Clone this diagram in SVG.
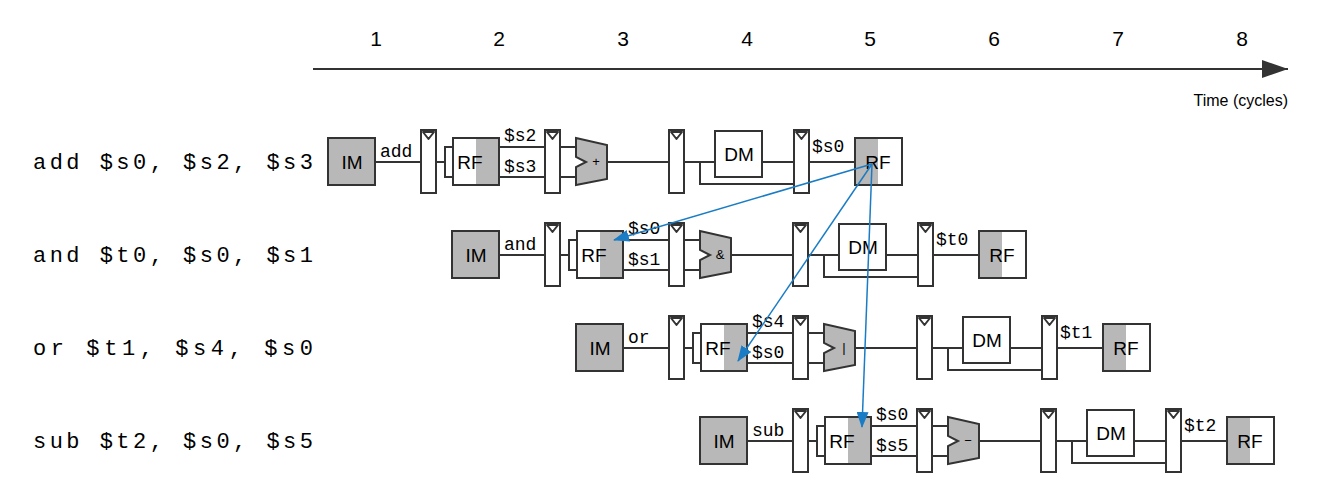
<svg xmlns="http://www.w3.org/2000/svg" width="1321" height="490" viewBox="0 0 1321 490">
<style>
.s{fill:none;stroke:#333;stroke-width:2}
.b{fill:#fff;stroke:#333;stroke-width:2}
.g{fill:#b8b8b8;stroke:#333;stroke-width:2}
.gf{fill:#b8b8b8}
.t{font-family:"Liberation Sans",Arial,sans-serif;fill:#000}
.m{font-family:"Liberation Mono","Courier New",monospace;fill:#000;white-space:pre}
.ar{fill:none;stroke:#1a7cc4;stroke-width:1.5}
</style>
<defs>
<marker id="ah" markerWidth="16" markerHeight="12" refX="15" refY="6" orient="auto" markerUnits="userSpaceOnUse"><path d="M0,0L16,6L0,12z" fill="#1a7cc4"/></marker>
<marker id="th" markerWidth="26" markerHeight="18" refX="26" refY="9" orient="auto" markerUnits="userSpaceOnUse"><path d="M0,0L26,9L0,18z" fill="#333"/></marker>
<g id="reg"><rect class="b" x="0" y="0" width="15" height="63"/><path d="M2,2L13,2L7.5,9z" fill="#fff" stroke="#333" stroke-width="2" stroke-linejoin="round"/></g>
<g id="stages">
<line class="s" x1="375" y1="162" x2="421" y2="162"/>
<use href="#reg" x="421" y="130"/>
<line class="s" x1="436" y1="162" x2="445" y2="162"/>
<rect class="b" x="445" y="147" width="8" height="30"/>
<rect class="b" x="453" y="138" width="46" height="47"/>
<rect class="gf" x="476" y="139" width="22" height="45"/>
<rect class="s" x="453" y="138" width="46" height="47"/>
<line class="s" x1="499" y1="147" x2="545" y2="147"/>
<line class="s" x1="499" y1="177" x2="545" y2="177"/>
<use href="#reg" x="545" y="130"/>
<line class="s" x1="560" y1="147" x2="576" y2="147"/>
<line class="s" x1="560" y1="177" x2="576" y2="177"/>
<path class="g" d="M576,138L607,145L607,179L576,185L576,167L586,162L576,157z"/>
<line class="s" x1="607" y1="162" x2="669" y2="162"/>
<use href="#reg" x="669" y="130"/>
<line class="s" x1="684" y1="162" x2="715" y2="162"/>
<path class="s" d="M700,162V184H794"/>
<rect class="b" x="715" y="131" width="47" height="46"/>
<line class="s" x1="762" y1="162" x2="794" y2="162"/>
<use href="#reg" x="794" y="130"/>
<line class="s" x1="809" y1="162" x2="855" y2="162"/>
<rect class="b" x="855" y="138" width="47" height="47"/>
<rect class="gf" x="856" y="139" width="22" height="45"/>
<rect class="s" x="855" y="138" width="47" height="47"/>
</g>
</defs>
<g id="timeline">
<line x1="313" y1="69" x2="1288" y2="69" stroke="#333" stroke-width="2" marker-end="url(#th)"/>
<g class="t" font-size="21" text-anchor="middle">
<text x="376" y="46">1</text><text x="499" y="46">2</text><text x="623" y="46">3</text><text x="747" y="46">4</text>
<text x="870" y="46">5</text><text x="994" y="46">6</text><text x="1118" y="46">7</text><text x="1242" y="46">8</text>
</g>
<text class="t" x="1288" y="106" font-size="16" text-anchor="end">Time (cycles)</text>
</g>
<g class="m" font-size="22">
<text x="33" y="169" textLength="280" lengthAdjust="spacing">add $s0, $s2, $s3</text>
<text x="33" y="262" textLength="280" lengthAdjust="spacing">and $t0, $s0, $s1</text>
<text x="33" y="355" textLength="280" lengthAdjust="spacing">or  $t1, $s4, $s0</text>
<text x="33" y="448" textLength="280" lengthAdjust="spacing">sub $t2, $s0, $s5</text>
</g>
<g id="row1">
<rect id="im1" class="g" x="328" y="138" width="47" height="47"/>
<use href="#stages"/>
</g>
<g id="row2" transform="translate(124,93)">
<rect class="g" x="328" y="138" width="47" height="47"/>
<use href="#stages"/>
</g>
<g id="row3" transform="translate(248,186)">
<rect class="g" x="328" y="138" width="47" height="47"/>
<use href="#stages"/>
</g>
<g id="row4" transform="translate(372,279)">
<rect class="g" x="328" y="138" width="47" height="47"/>
<use href="#stages"/>
</g>
<g id="labels">
<g class="t" font-size="19" text-anchor="middle">
<text x="352" y="169">IM</text><text x="470" y="169">RF</text><text x="739" y="161">DM</text><text x="878" y="169">RF</text>
<text x="476" y="262">IM</text><text x="594" y="262">RF</text><text x="863" y="254">DM</text><text x="1002" y="262">RF</text>
<text x="600" y="355">IM</text><text x="718" y="355">RF</text><text x="987" y="347">DM</text><text x="1126" y="355">RF</text>
<text x="724" y="448">IM</text><text x="842" y="448">RF</text><text x="1111" y="440">DM</text><text x="1250" y="448">RF</text>
</g>
<g class="t" font-size="13" text-anchor="middle">
<text x="596" y="166">+</text><text x="720" y="259">&amp;</text><text x="844" y="352">|</text><text x="968" y="445">−</text>
</g>
<g class="m" font-size="18">
<text x="380" y="157">add</text><text x="504" y="141">$s2</text><text x="504" y="172">$s3</text><text x="812" y="152">$s0</text>
<text x="504" y="250">and</text><text x="628" y="234">$s0</text><text x="628" y="265">$s1</text><text x="936" y="245">$t0</text>
<text x="628" y="343">or</text><text x="752" y="327">$s4</text><text x="752" y="358">$s0</text><text x="1060" y="338">$t1</text>
<text x="752" y="436">sub</text><text x="876" y="420">$s0</text><text x="876" y="451">$s5</text><text x="1184" y="431">$t2</text>
</g>
</g>
<g id="connectors">
<line class="ar" x1="872" y1="164" x2="614" y2="240" marker-end="url(#ah)"/>
<line class="ar" x1="872" y1="164" x2="738" y2="361" marker-end="url(#ah)"/>
<line class="ar" x1="872" y1="164" x2="862" y2="427" marker-end="url(#ah)"/>
</g>
</svg>
